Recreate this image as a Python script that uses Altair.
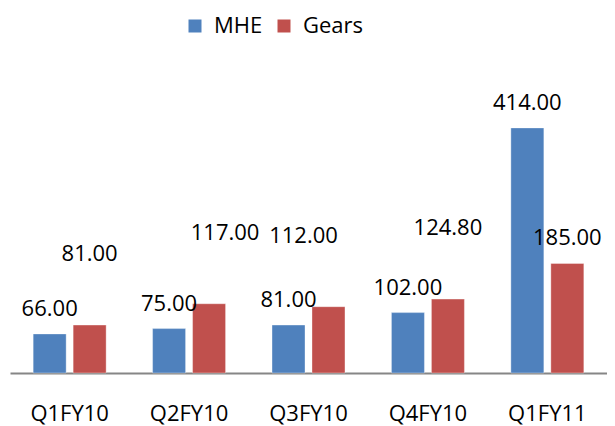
import altair as alt
import pandas as pd

quarters = ["Q1FY10", "Q2FY10", "Q3FY10", "Q4FY10", "Q1FY11"]
mhe = [66.00, 75.00, 81.00, 102.00, 414.00]
gears = [81.00, 117.00, 112.00, 124.80, 185.00]
series = ["MHE", "Gears"]
colors = ["#4F81BD", "#C0504D"]

rows = []
for q, m, g in zip(quarters, mhe, gears):
    rows.append({"quarter": q, "series": "MHE", "value": m})
    rows.append({"quarter": q, "series": "Gears", "value": g})
df = pd.DataFrame(rows)
df["label"] = df["value"].map(lambda v: f"{v:.2f}")

FONT = "Open Sans"

x = alt.X("quarter:N", sort=quarters, title=None,
          scale=alt.Scale(paddingInner=0.389, paddingOuter=0.194),
          axis=alt.Axis(labelAngle=0, ticks=False, domainColor="#868686",
                        domainWidth=2, labelFont=FONT, labelFontSize=22,
                        labelColor="#000000", labelBaseline="alphabetic",
                        labelPadding=47, grid=False))
xo = alt.XOffset("series:N", sort=series,
                 scale=alt.Scale(paddingInner=0.175, paddingOuter=0))
y = alt.Y("value:Q", scale=alt.Scale(domain=[0, 500]), axis=None)

bars = alt.Chart(df).mark_bar(stroke="#ffffff", strokeOpacity=0.35, strokeWidth=1).encode(
    x=x, xOffset=xo, y=y,
    color=alt.Color("series:N", sort=series,
                    scale=alt.Scale(domain=series, range=colors),
                    legend=alt.Legend(title=None, orient="none", direction="horizontal",
                                      legendX=174, legendY=-62, symbolType="square",
                                      symbolSize=169, symbolStrokeWidth=0,
                                      labelFont=FONT, labelFontSize=22,
                                      labelColor="#000000", labelOffset=8,
                                      columnPadding=10)),
)

text_base = dict(font=FONT, fontSize=22, color="#000000", baseline="alphabetic")

lab_normal = alt.Chart(df).transform_filter(
    "datum.series == 'MHE' || datum.quarter == 'Q1FY11'"
).mark_text(dy=-18, **text_base).encode(x=x, xOffset=xo, y=y, text="label:N")

# Gears labels that sit higher above their bars, each with its own nudge
lifted_dx = {"Q1FY10": 0, "Q2FY10": 16, "Q3FY10": -25, "Q4FY10": 0}
lifted = []
for q, ddx in lifted_dx.items():
    lifted.append(
        alt.Chart(df).transform_filter(
            f"datum.series == 'Gears' && datum.quarter == '{q}'"
        ).mark_text(dy=-64, dx=ddx, **text_base).encode(
            x=x, xOffset=xo, y=y, text="label:N")
    )

chart = alt.layer(bars, lab_normal, *lifted).properties(
    width=597, height=296,
    autosize=alt.AutoSizeParams(type="none"),
    padding={"left": 2, "top": 69, "right": 0, "bottom": 53},
).configure_view(stroke=None)

chart.save("out.html", embed_options={"renderer": "svg", "actions": False})
